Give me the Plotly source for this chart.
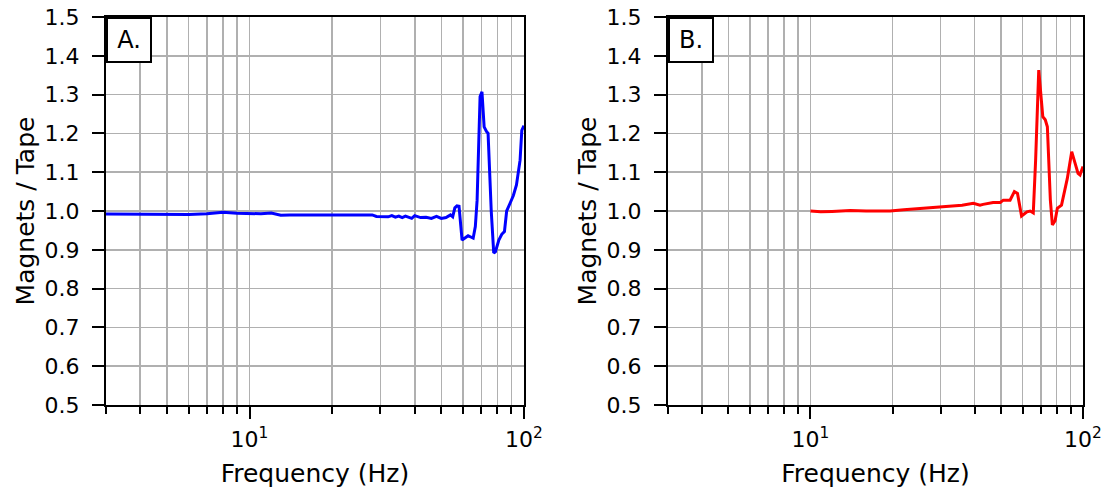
import plotly.graph_objects as go
import numpy as np

# Panel A (blue)
freq_a = [3, 4, 5, 6, 7, 8, 9, 10, 11, 12, 13, 14, 16, 18, 20, 22, 25, 28, 29, 30,
          32, 33, 34, 35, 36, 37, 38, 39, 40, 42, 44, 46, 48, 50, 52, 54, 55, 56,
          57, 58, 59.5, 61, 62.6, 64, 65.3, 66.5, 67.5, 69.2, 70.3, 71.6, 72.3, 73,
          74, 76, 77.6, 78.7, 81, 83, 84.9, 86.5, 89, 91.5, 93.9, 96.8, 98.2, 100]
ratio_a = [0.992, 0.992, 0.991, 0.991, 0.993, 0.997, 0.994, 0.993, 0.993, 0.995, 0.989,
           0.990, 0.990, 0.991, 0.990, 0.990, 0.990, 0.990, 0.986, 0.986, 0.985, 0.988,
           0.984, 0.987, 0.983, 0.987, 0.984, 0.981, 0.988, 0.983, 0.984, 0.981, 0.986,
           0.981, 0.983, 0.990, 0.985, 1.008, 1.013, 1.012, 0.925, 0.930, 0.936, 0.933,
           0.930, 0.960, 1.028, 1.295, 1.307, 1.217, 1.210, 1.205, 1.200, 1.000, 0.892,
           0.895, 0.925, 0.940, 0.947, 1.000, 1.020, 1.040, 1.067, 1.131, 1.208, 1.220]

# Panel B (red)
freq_b = [10, 10.9, 12, 14, 16, 19.6, 22, 25, 29.9, 33, 36, 39.6, 41.9, 43, 46.8, 49.7,
          51, 54, 56, 57.5, 59.5, 62.3, 64, 65.7, 67, 68.8, 69.8, 71.2, 72.7, 74, 75.9,
          77.2, 79, 80.5, 83.4, 87.6, 90.9, 95.9, 97.5, 100]
ratio_b = [1.000, 0.998, 0.999, 1.001, 1.000, 1.000, 1.003, 1.006, 1.010, 1.012, 1.015,
           1.020, 1.015, 1.017, 1.022, 1.022, 1.028, 1.028, 1.050, 1.045, 0.987, 0.998,
           1.000, 0.995, 1.130, 1.363, 1.320, 1.243, 1.235, 1.217, 1.028, 0.964, 0.975,
           1.007, 1.015, 1.084, 1.153, 1.097, 1.093, 1.115]

major_x = [10, 100]
major_x_text = ["10<sup>1</sup>", "10<sup>2</sup>"]
minor_x = [3, 4, 5, 6, 7, 8, 9, 20, 30, 40, 50, 60, 70, 80, 90]
y_ticks = [0.5, 0.6, 0.7, 0.8, 0.9, 1.0, 1.1, 1.2, 1.3, 1.4, 1.5]
y_text = ["%.1f" % v for v in y_ticks]
panel_labels = ["A.", "B."]

FONT = "DejaVu Sans"
GRID = "#b0b0b0"

fig = go.Figure()
fig.add_trace(go.Scatter(x=freq_a, y=ratio_a, mode="lines",
                         line=dict(color="#0000ff", width=3), xaxis="x", yaxis="y",
                         showlegend=False))
fig.add_trace(go.Scatter(x=freq_b, y=ratio_b, mode="lines",
                         line=dict(color="#ff0000", width=3), xaxis="x2", yaxis="y2",
                         showlegend=False))

def xax(domain, anchor):
    return dict(
        type="log", range=[np.log10(3), 2], domain=domain, anchor=anchor,
        automargin=False, ticklabeloverflow="allow",
        tickmode="array", tickvals=major_x, ticktext=major_x_text,
        ticks="outside", ticklen=12, tickwidth=2, tickcolor="black",
        tickfont=dict(family=FONT, size=22, color="black"),
        ticklabelstandoff=2,
        showgrid=True, gridcolor=GRID, gridwidth=1.6,
        minor=dict(tickmode="array", tickvals=minor_x, ticks="outside", ticklen=7,
                   tickwidth=2, tickcolor="black", showgrid=True, gridcolor=GRID,
                   gridwidth=1.6),
        showline=True, linecolor="black", linewidth=2, mirror=True,
        zeroline=False,
        title=dict(text="Frequency (Hz)", font=dict(family=FONT, size=25, color="black"),
                   standoff=16),
    )

def yax(anchor):
    return dict(
        range=[0.5, 1.5], anchor=anchor, domain=[0, 1],
        automargin=False, ticklabeloverflow="allow",
        tickmode="array", tickvals=y_ticks, ticktext=y_text,
        ticks="outside", ticklen=12, tickwidth=2, tickcolor="black",
        tickfont=dict(family=FONT, size=22, color="black"),
        ticklabelstandoff=8,
        showgrid=True, gridcolor=GRID, gridwidth=1.6,
        showline=True, linecolor="black", linewidth=2, mirror=True,
        zeroline=False,
        title=dict(text="Magnets / Tape", font=dict(family=FONT, size=25, color="black"),
                   standoff=3),
    )

fig.update_layout(
    width=1109, height=488,
    margin=dict(l=106, r=26, t=17, b=83, autoexpand=False),
    paper_bgcolor="white", plot_bgcolor="white",
    xaxis=xax([0, 0.4278], "y"),
    yaxis=yax("x"),
    xaxis2=xax([0.5752, 1.0], "y2"),
    yaxis2=yax("x2"),
    font=dict(family=FONT, color="black"),
    hovermode=False,
)

for i, lab in enumerate(panel_labels):
    xref = "x domain" if i == 0 else "x2 domain"
    yref = "y domain" if i == 0 else "y2 domain"
    fig.add_annotation(x=0, y=1, xref=xref, yref=yref, xanchor="left", yanchor="top",
                       text=lab, showarrow=False,
                       font=dict(family=FONT, size=24, color="black"),
                       bgcolor="white", bordercolor="black", borderwidth=2,
                       borderpad=1, width=40, height=40)

# remove the default page margin so the 1109x488 figure fills the window exactly
fig.write_html("out.html",
               config={"displayModeBar": False, "staticPlot": True},
               post_script="document.body.style.margin='0';document.body.style.overflow='hidden';")
